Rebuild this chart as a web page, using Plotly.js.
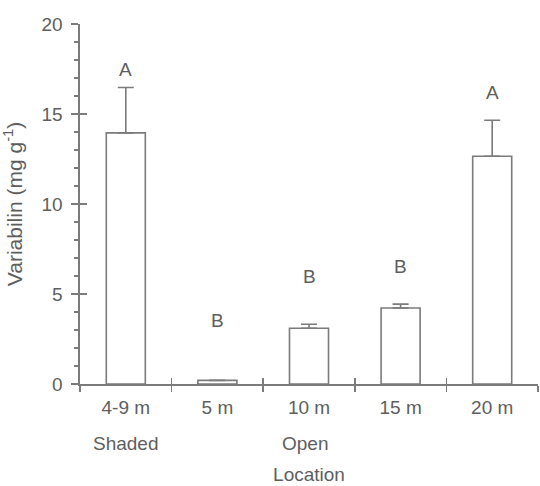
<!DOCTYPE html>
<html>
<head>
<meta charset="utf-8">
<script src="https://cdn.plot.ly/plotly-3.0.1.min.js"></script>
<style>html,body{margin:0;padding:0;background:#fff;}#chart{width:540px;height:486px;}</style>
</head>
<body>
<div id="chart"></div>
<script>
// Data
var categories = ["4-9 m", "5 m", "10 m", "15 m", "20 m"];
var variabilin = [13.95, 0.2, 3.1, 4.22, 12.65];
var errUpper = [2.52, 0.0, 0.22, 0.22, 2.0];
var letters = ["A", "B", "B", "B", "A"];
var letterY = [17.45, 3.55, 6.0, 6.55, 16.2];
var groupLabels = ["Shaded", "Open"];
var groupAt = [0, 1.96];

var gray = "#7b7b7b";
var textc = "#5e5e5e";
var fam = "Liberation Sans, Arial, sans-serif";
var fnt = {family: fam, size: 19, color: textc};

var traces = [{
  type: "bar",
  x: categories,
  y: variabilin,
  marker: {color: "#ffffff", line: {color: gray, width: 1.6}},
  error_y: {type: "data", symmetric: false, array: errUpper,
            arrayminus: categories.map(function(){return 0;}),
            color: gray, thickness: 1.6, width: 8},
  hoverinfo: "skip"
}, {
  type: "scatter", x: categories, y: variabilin, xaxis: "x2", yaxis: "y2",
  mode: "markers", marker: {opacity: 0, size: 1}, hoverinfo: "skip"
}];

var annotations = [];
for (var i = 0; i < letters.length; i++) {
  annotations.push({x: categories[i], y: letterY[i], xref: "x", yref: "y",
    text: letters[i], showarrow: false, font: fnt, yanchor: "middle"});
}
var groupY = -0.164;
for (var j = 0; j < groupLabels.length; j++) {
  annotations.push({x: groupAt[j], y: groupY, xref: "x", yref: "paper",
    text: groupLabels[j], showarrow: false, font: fnt, yanchor: "middle"});
}

var layout = {
  width: 540, height: 486,
  margin: {l: 80, r: 2, t: 24, b: 102},
  paper_bgcolor: "#ffffff", plot_bgcolor: "#ffffff",
  showlegend: false,
  bargap: 0.574,
  font: fnt,
  xaxis: {
    type: "category", range: [-0.5, 4.5],
    showline: true, linecolor: gray, linewidth: 1.6,
    ticks: "outside", tickson: "boundaries", ticklen: 6, tickwidth: 1.6, tickcolor: gray,
    ticklabelstandoff: 6,
    showgrid: false, zeroline: false,
    tickfont: fnt,
    title: {text: "Location", font: fnt, standoff: 50}
  },
  xaxis2: {
    type: "category", range: [-0.5, 4.5], overlaying: "x",
    ticks: "inside", tickson: "boundaries", ticklen: 6, tickwidth: 1.6, tickcolor: gray,
    showticklabels: false, showgrid: false, zeroline: false, showline: false
  },
  yaxis: {
    range: [0, 20], dtick: 5, tick0: 0,
    showline: true, linecolor: gray, linewidth: 1.6,
    ticks: "outside", ticklen: 7, tickwidth: 1.6, tickcolor: gray,
    minor: {dtick: 1, ticks: "outside", ticklen: 4, tickwidth: 1.2, tickcolor: gray},
    ticklabelstandoff: 5,
    showgrid: false, zeroline: false,
    tickfont: fnt,
    title: {text: "Variabilin (mg g<sup>-1</sup>)", font: {family: fam, size: 21, color: textc}, standoff: 16}
  },
  yaxis2: {
    overlaying: "y", range: [0, 20], dtick: 5, tick0: 0,
    ticks: "inside", ticklen: 7, tickwidth: 1.6, tickcolor: gray,
    showticklabels: false, showgrid: false, zeroline: false, showline: false
  },
  annotations: annotations
};

Plotly.newPlot("chart", traces, layout, {staticPlot: true, displayModeBar: false});
</script>
</body>
</html>
